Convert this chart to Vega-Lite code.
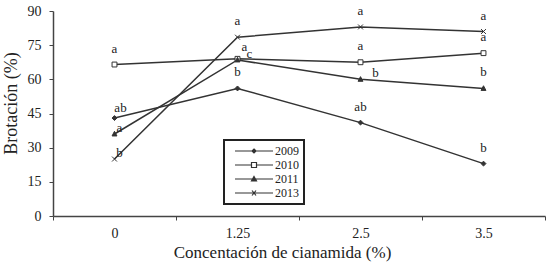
{
  "$schema": "https://vega.github.io/schema/vega-lite/v6.json",
  "width": 492,
  "height": 205,
  "autosize": {"type": "none"},
  "padding": {"left": 53, "top": 11, "right": 5, "bottom": 50},
  "background": "white",
  "config": {
    "view": {"stroke": null},
    "font": "Liberation Serif",
    "axis": {
      "grid": false,
      "domainColor": "#444",
      "tickColor": "#444",
      "labelColor": "#222",
      "titleColor": "#222",
      "labelFont": "Liberation Serif",
      "titleFont": "Liberation Serif",
      "titleFontWeight": "normal"
    }
  },
  "data": {
    "values": [
      {"conc": "0", "year": "2009", "brot": 43, "sig": "ab"},
      {"conc": "1.25", "year": "2009", "brot": 56, "sig": "b"},
      {"conc": "2.5", "year": "2009", "brot": 41, "sig": "ab"},
      {"conc": "3.5", "year": "2009", "brot": 23, "sig": "b"},
      {"conc": "0", "year": "2010", "brot": 66.5, "sig": "a"},
      {"conc": "1.25", "year": "2010", "brot": 69, "sig": "a"},
      {"conc": "2.5", "year": "2010", "brot": 67.5, "sig": "a"},
      {"conc": "3.5", "year": "2010", "brot": 71.5, "sig": "a"},
      {"conc": "0", "year": "2011", "brot": 36, "sig": "a"},
      {"conc": "1.25", "year": "2011", "brot": 68.5, "sig": "c"},
      {"conc": "2.5", "year": "2011", "brot": 60, "sig": "b"},
      {"conc": "3.5", "year": "2011", "brot": 56, "sig": "b"},
      {"conc": "0", "year": "2013", "brot": 25, "sig": "b"},
      {"conc": "1.25", "year": "2013", "brot": 78.5, "sig": "a"},
      {"conc": "2.5", "year": "2013", "brot": 83, "sig": "a"},
      {"conc": "3.5", "year": "2013", "brot": 81, "sig": "a"}
    ]
  },
  "encoding": {
    "x": {
      "field": "conc",
      "type": "ordinal",
      "bandPosition": 0.5,
      "scale": {"type": "band", "domain": ["0", "1.25", "2.5", "3.5"], "paddingInner": 0, "paddingOuter": 0},
      "axis": {
        "title": "Concentación de cianamida  (%)",
        "labelAngle": 0,
        "tickBand": "extent",
        "tickSize": 4,
        "labelFontSize": 14,
        "labelPadding": 6,
        "titleFontSize": 17,
        "titleX": 229,
        "titleY": 28,
        "domainWidth": 1.5
      }
    },
    "y": {
      "field": "brot",
      "type": "quantitative",
      "scale": {"domain": [0, 90]},
      "axis": {
        "values": [0, 15, 30, 45, 60, 75, 90],
        "title": "Brotación (%)",
        "tickSize": 4,
        "labelFontSize": 14,
        "labelPadding": 8,
        "titleFontSize": 18,
        "titleX": -33,
        "titleY": 92,
        "domainWidth": 1.5
      }
    }
  },
  "layer": [
    {
      "mark": {"type": "line", "strokeWidth": 1.5},
      "encoding": {
        "color": {
          "field": "year",
          "type": "nominal",
          "scale": {"domain": ["2009", "2010", "2011", "2013"], "range": ["#333", "#333", "#333", "#333"]},
          "legend": {
            "orient": "none",
            "legendX": 171,
            "legendY": 129,
            "title": null,
            "strokeColor": "#222",
            "fillColor": "white",
            "padding": 5,
            "symbolSize": 4,
            "symbolStrokeWidth": 1.2,
            "labelOffset": 34,
            "labelFontSize": 12,
            "labelFont": "Liberation Serif",
            "labelColor": "#222",
            "rowPadding": 2,
            "encode": {
              "legend": {"update": {"strokeWidth": {"value": 2}}},
              "symbols": {
                "update": {
                  "shape": {"signal": "datum.value=='2009' ? 'M19,-2L21,0L19,2L17,0ZM0,0L38,0' : datum.value=='2010' ? 'M16.5,-2.5L21.5,-2.5L21.5,2.5L16.5,2.5ZM0,0L16.5,0M21.5,0L38,0' : datum.value=='2011' ? 'M19,-2.5L21.5,2L16.5,2ZM0,0L38,0' : 'M17,-2.5L21,2.5M17,2.5L21,-2.5M0,0L38,0'"},
                  "fill": {"signal": "datum.value=='2010' ? 'white' : datum.value=='2013' ? 'transparent' : '#333'"},
                  "stroke": {"value": "#333"},
                  "strokeWidth": {"value": 1.2},
                  "size": {"value": 4}
                }
              }
            }
          }
        }
      }
    },
    {
      "transform": [{"filter": "datum.year=='2009'"}],
      "mark": {"type": "point", "shape": "M0,-1L1,0L0,1L-1,0Z", "fill": "#333", "stroke": "#333", "strokeWidth": 1, "opacity": 1, "size": 24}
    },
    {
      "transform": [{"filter": "datum.year=='2010'"}],
      "mark": {"type": "point", "shape": "M-1,-1H1V1H-1Z", "fill": "white", "stroke": "#333", "strokeWidth": 1, "opacity": 1, "size": 24}
    },
    {
      "transform": [{"filter": "datum.year=='2011'"}],
      "mark": {"type": "point", "shape": "M0,-1.1L1,0.8H-1Z", "fill": "#333", "stroke": "#333", "strokeWidth": 1, "opacity": 1, "size": 24}
    },
    {
      "transform": [{"filter": "datum.year=='2013'"}],
      "mark": {"type": "point", "shape": "M-1,-1L1,1M-1,1L1,-1", "fill": "transparent", "stroke": "#333", "strokeWidth": 1, "opacity": 1, "size": 24}
    },
    {
      "transform": [{"filter": "!((datum.conc=='0' && datum.year!='2010') || (datum.conc=='1.25' && (datum.year=='2010' || datum.year=='2011')) || (datum.conc=='2.5' && datum.year=='2011'))"}],
      "mark": {"type": "text", "fontSize": 13, "font": "Liberation Serif", "dy": -16, "baseline": "middle", "color": "#222"},
      "encoding": {"text": {"field": "sig"}}
    },
    {
      "transform": [{"filter": "datum.conc=='0' && datum.year=='2009'"}],
      "mark": {"type": "text", "fontSize": 13, "font": "Liberation Serif", "dx": 6, "dy": -10, "baseline": "middle", "color": "#222"},
      "encoding": {"text": {"field": "sig"}}
    },
    {
      "transform": [{"filter": "datum.conc=='0' && (datum.year=='2011' || datum.year=='2013')"}],
      "mark": {"type": "text", "fontSize": 13, "font": "Liberation Serif", "dx": 5, "dy": -6, "baseline": "middle", "color": "#222"},
      "encoding": {"text": {"field": "sig"}}
    },
    {
      "transform": [{"filter": "datum.conc=='1.25' && datum.year=='2010'"}],
      "mark": {"type": "text", "fontSize": 13, "font": "Liberation Serif", "dx": 7, "dy": -12, "baseline": "middle", "color": "#222"},
      "encoding": {"text": {"field": "sig"}}
    },
    {
      "transform": [{"filter": "datum.conc=='1.25' && datum.year=='2011'"}],
      "mark": {"type": "text", "fontSize": 13, "font": "Liberation Serif", "dx": 12, "dy": -6, "baseline": "middle", "color": "#222"},
      "encoding": {"text": {"field": "sig"}}
    },
    {
      "transform": [{"filter": "datum.conc=='2.5' && datum.year=='2011'"}],
      "mark": {"type": "text", "fontSize": 13, "font": "Liberation Serif", "dx": 15, "dy": -6, "baseline": "middle", "color": "#222"},
      "encoding": {"text": {"field": "sig"}}
    }
  ]
}
